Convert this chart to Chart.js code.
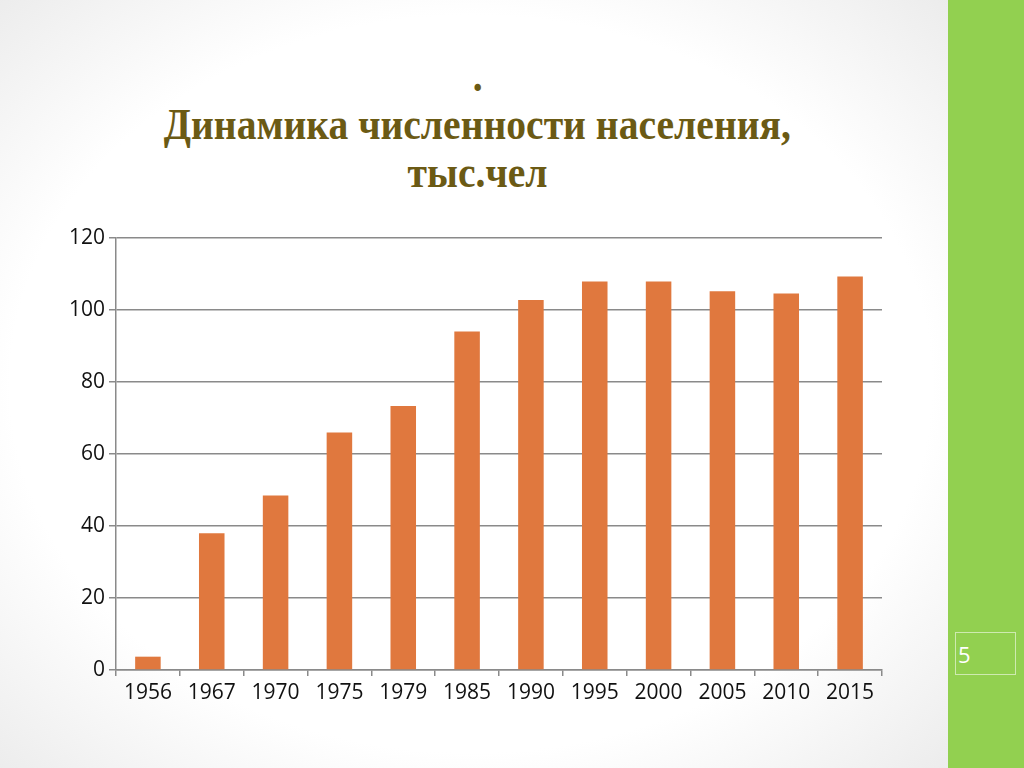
<!DOCTYPE html>
<html>
<head>
<meta charset="utf-8">
<script src="https://cdn.jsdelivr.net/npm/chart.js@4"></script>
<style>
  html, body { margin: 0; padding: 0; }
  body {
    width: 1024px; height: 768px; overflow: hidden; position: relative;
    background: radial-gradient(ellipse 75% 80% at 46% 50%, #ffffff 60%, #e4e4e4 100%);
  }
  .side { position: absolute; left: 948px; top: 0; width: 76px; height: 768px; background: #92d050; }
  .pg {
    position: absolute; left: 955px; top: 632px; width: 61px; height: 43px;
    border: 1px solid rgba(255,255,255,0.55); color: #fff;
    font: 22px "Open Sans", sans-serif; line-height: 43px; padding-left: 2px; box-sizing: border-box;
  }
  .t {
    position: absolute; left: 0; width: 955px; text-align: center;
    font: bold 45px "Liberation Serif", serif; line-height: 45px; color: #6b5a14;
  }
  .t span { display: inline-block; transform: scaleX(0.88); }
  #wrap { position: absolute; left: 40px; top: 220px; width: 860px; height: 500px; }
</style>
</head>
<body>
<div class="side"></div>
<div class="pg">5</div>
<div class="t" style="top:54px"><span>.</span></div>
<div class="t" style="top:102px"><span>Динамика численности населения,</span></div>
<div class="t" style="top:150px"><span>тыс.чел</span></div>
<div id="wrap"><canvas id="c"></canvas></div>
<script>
// Численность населения по годам, тыс. чел
const years = ['1956', '1967', '1970', '1975', '1979', '1985', '1990', '1995', '2000', '2005', '2010', '2015'];
const population = [3.7, 38, 48.5, 66, 73.3, 94, 102.8, 107.9, 107.9, 105.2, 104.6, 109.3];
const yTicks = [0, 20, 40, 60, 80, 100, 120];

const lineGray = '#8a8a8a';
const tickFont = { family: 'Open Sans', size: 21 };

new Chart(document.getElementById('c'), {
    type: 'bar',
    data: {
        labels: years,
        datasets: [{
            data: population,
            backgroundColor: '#e0783e',
            barPercentage: 0.8,
            categoryPercentage: 0.5
        }]
    },
    options: {
        responsive: true,
        maintainAspectRatio: false,
        animation: false,
        layout: { padding: { top: 18, right: 18, left: 0, bottom: 0 } },
        scales: {
            x: {
                grid: { display: true, drawOnChartArea: false, offset: true, tickLength: 6, color: lineGray, lineWidth: 1.5 },
                border: { color: lineGray, width: 1.5 },
                ticks: { color: '#111', font: tickFont, padding: 4, maxRotation: 0, autoSkip: false },
                afterFit: s => { s.height = 50; }
            },
            y: {
                min: 0,
                max: yTicks[yTicks.length - 1],
                afterBuildTicks: s => { s.ticks = yTicks.map(v => ({ value: v })); },
                grid: { color: lineGray, lineWidth: 1.5, tickLength: 7 },
                border: { color: lineGray, width: 1.5 },
                ticks: { color: '#111', font: tickFont, padding: 4 },
                afterFit: s => { s.width = 76; }
            }
        },
        plugins: {
            legend: { display: false },
            tooltip: { enabled: false }
        }
    }
});
</script>
</body>
</html>
